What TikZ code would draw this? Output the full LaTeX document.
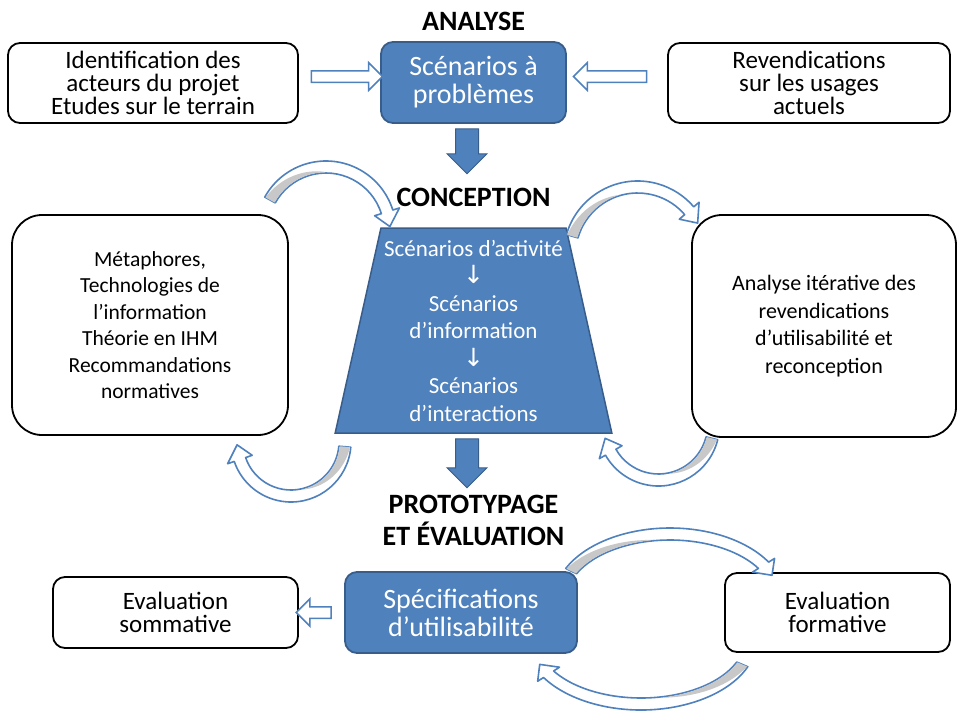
\documentclass[tikz,border=0pt]{standalone}
\usepackage{fontspec}
\setmainfont{Carlito}
\newfontfamily\arrowfont{DejaVu Sans}
\usetikzlibrary{shapes.geometric,shapes.arrows,calc}

\definecolor{boxblue}{HTML}{4F81BD}
\definecolor{boxedge}{HTML}{385D8A}
\definecolor{ribbongrey}{HTML}{C8C8C8}

% curved hollow arrow: centre x, centre y (from top), x radius, y radius, start angle, end angle
\newcommand\bendarrow[6]{%
  \pgfmathsetmacro\hd{(#6>#5 ? 1 : -1)*15/(0.5*(#3+#4))*57.3}
  \pgfmathsetmacro\hb{#6-\hd}
  \pgfmathsetmacro\gm{#5+0.42*(#6-#5)}
  \pgfmathsetmacro\xo{#3+6}\pgfmathsetmacro\yo{#4+6}
  \pgfmathsetmacro\xi{#3-6}\pgfmathsetmacro\yi{#4-6}
  \begin{scope}[shift={(#1,-#2)}]
    \filldraw[bendline] ({\xo*cos(#5)},{\yo*sin(#5)})
      arc[start angle=#5, end angle=\hb, x radius=\xo, y radius=\yo]
      -- ({(#3+13)*cos(\hb)},{(#4+13)*sin(\hb)}) -- ({#3*cos(#6)},{#4*sin(#6)})
      -- ({(#3-13)*cos(\hb)},{(#4-13)*sin(\hb)}) -- ({\xi*cos(\hb)},{\yi*sin(\hb)})
      arc[start angle=\hb, end angle=#5, x radius=\xi, y radius=\yi] -- cycle;
    \fill[ribbongrey] plot[domain=#5:\gm, samples=24, variable=\t]
      ({(#3+5.2-10.4*(\t-(#5))/(\gm-(#5)))*cos(\t)}, {(#4+5.2-10.4*(\t-(#5))/(\gm-(#5)))*sin(\t)})
      arc[start angle=\gm, end angle=#5, x radius=#3-5.2, y radius=#4-5.2] -- cycle;
  \end{scope}}

\begin{document}
\begin{tikzpicture}[x=1pt, y=1pt,
    whitebox/.style = {draw, line width=1.8pt, rounded corners=12pt, fill=white, align=center, inner sep=0pt, font=\fontsize{25}{23}\selectfont},
    bigbox/.style = {whitebox, rounded corners=30pt, font=\fontsize{21.5}{26.5}\selectfont},
    bluebox/.style = {draw=boxedge, line width=1.8pt, fill=boxblue, rounded corners=12pt, text=white, align=center, inner sep=0pt, font=\fontsize{28}{28}\selectfont},
    stage/.style = {align=center, font=\bfseries\fontsize{28}{32}\selectfont},
    hollowarrow/.style = {single arrow, draw=boxblue, fill=white, line width=1.5pt, inner sep=5pt, single arrow head extend=8pt, minimum height=#1},
    blockdown/.style = {single arrow, shape border rotate=270, draw=boxedge, fill=boxblue, line width=1pt, inner sep=11pt, single arrow head extend=8.5pt, minimum height=#1},
    bendline/.style = {draw=boxblue, fill=white, line width=1.6pt, line join=round}]
    \fill[white] (0,0) rectangle (958,-710);
    \useasboundingbox (0,0) rectangle (958,-710);

    % analyse
    \node[bluebox, minimum width=185, minimum height=81] (scenpb) at (473.5,-82.5) {Scénarios à\\problèmes};
    \node[stage] (analyse) [above of=scenpb, node distance=61.5] {ANALYSE};
    \node[whitebox, minimum width=290, minimum height=80] (acteurs) at (153,-83) {Identification des\\acteurs du projet\\Etudes sur le terrain};
    \node[whitebox, minimum width=282, minimum height=80] (revend) at (809,-83) {Revendications\\sur les usages\\actuels};
    \node[hollowarrow=71] (in1) at ($(scenpb.west)+(-36,6)$) {};
    \node[hollowarrow=73, shape border rotate=180] (in2) at ($(scenpb.east)+(46,6)$) {};
    \node[blockdown=45] (down1) at (467,-145.5) {};

    % conception
    \node[trapezium, trapezium left angle=76.3, trapezium right angle=76.3, trapezium stretches=true,
          minimum width=277, minimum height=205, draw=boxedge, line width=1.5pt, fill=boxblue,
          text=white, align=center, inner sep=0pt, font=\fontsize{23}{27.5}\selectfont]
          (conc) at (473.5,-330.5) {Scénarios d’activité\\{\arrowfont\fontsize{25}{27.5}\selectfont ↓}\\Scénarios\\d’information\\{\arrowfont\fontsize{25}{27.5}\selectfont ↓}\\Scénarios\\d’interactions};
    \node[stage] (conception) [above of=conc, node distance=133.5] {CONCEPTION};
    \node[bigbox, minimum width=276, minimum height=220] (meta) at (150,-325) {Métaphores,\\Technologies de\\l’information\\Théorie en IHM\\Recommandations\\normatives};
    \node[bigbox, minimum width=264, minimum height=222, font=\fontsize{22}{27.5}\selectfont] (iter) at (824,-326) {Analyse itérative des\\revendications\\d’utilisabilité et\\reconception};
    \node[blockdown=49] (down2) at (467,-457.5) {};
    \bendarrow{326}{231}{64}{64}{151}{4}
    \bendarrow{637.6}{255}{68}{68}{164}{28}
    \bendarrow{291}{442}{54}{54}{-5}{-177}
    \bendarrow{658.5}{425}{55}{55}{-14}{-166}

    % prototypage et evaluation
    \node[stage] (proto) [below of=conc, node distance=190] {PROTOTYPAGE\\ET ÉVALUATION};
    \node[bluebox, minimum width=232, minimum height=81] (spec) at (461,-612.5) {Spécifications\\d’utilisabilité};
    \node[whitebox, minimum width=245, minimum height=71] (somm) at (175.5,-612.5) {Evaluation\\sommative};
    \node[whitebox, minimum width=225, minimum height=79] (form) at (837.5,-612.5) {Evaluation\\formative};
    \node[hollowarrow=35, shape border rotate=180] (out1) at ($(spec.west)+(-27.5,0)$) {};
    \bendarrow{670}{600}{110}{66}{154}{22}
    \bendarrow{641}{639}{110}{65}{-23}{-157}
\end{tikzpicture}
\end{document}
